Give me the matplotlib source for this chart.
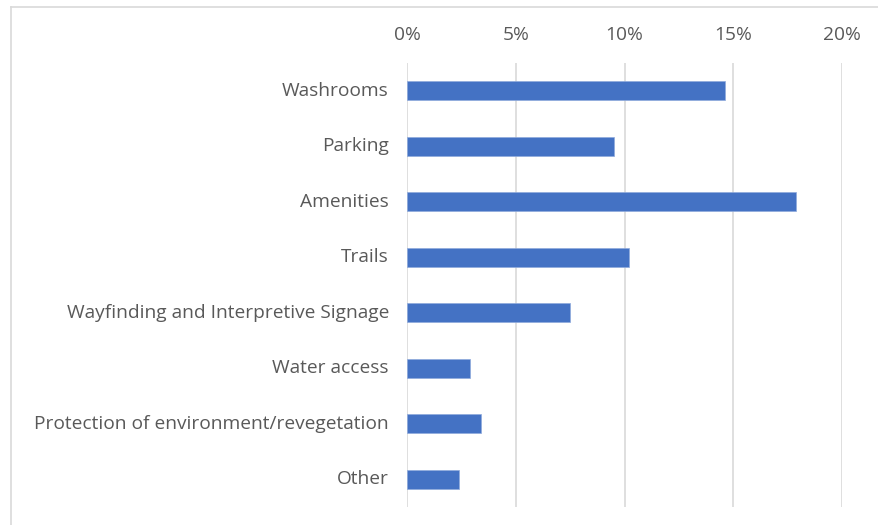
import matplotlib
matplotlib.use("Agg")
import matplotlib.pyplot as plt
from matplotlib.lines import Line2D
from matplotlib.ticker import FuncFormatter
from matplotlib.transforms import ScaledTranslation

categories = ["Washrooms", "Parking", "Amenities", "Trails",
              "Wayfinding and Interpretive Signage", "Water access",
              "Protection of environment/revegetation", "Other"]
values = [14.6, 9.5, 17.9, 10.2, 7.5, 2.9, 3.4, 2.4]
xticks = [0, 5, 10, 15, 20]

plt.rcParams['font.family'] = ['Open Sans', 'DejaVu Sans']
W, H = 879, 525
fig = plt.figure(figsize=(W/100, H/100), dpi=100)
ax = fig.add_axes([407/W, 1-507/H, (842-407)/W, (507-63)/H])

y = list(range(len(categories)))
ax.barh(y, values, height=0.34, color='#4472C4', edgecolor='#8FAADC', linewidth=0.5, zorder=3)
ax.set_ylim(len(categories)-0.5, -0.5)
ax.set_xlim(0, 20)
ax.set_xticks(xticks)
ax.xaxis.set_major_formatter(FuncFormatter(lambda v, p: f"{v:.0f}%"))
ax.xaxis.tick_top()
ax.set_yticks(y)
ax.set_yticklabels(categories)
ax.grid(axis='x', color='#D9D9D9', linewidth=1.2, zorder=0)
for s in ax.spines.values():
    s.set_visible(False)
ax.tick_params(axis='both', length=0, colors='#595959', labelsize=13.8)
ax.tick_params(axis='x', pad=14)
ax.tick_params(axis='y', pad=13)
shift = ScaledTranslation(0, 2/100, fig.dpi_scale_trans)
for lbl in ax.get_yticklabels():
    lbl.set_transform(lbl.get_transform() + shift)

fig.add_artist(Line2D([11/W, 11/W], [0, 1-7/H], color='#D9D9D9', linewidth=1.2))
fig.add_artist(Line2D([11/W, 1], [1-7/H, 1-7/H], color='#D9D9D9', linewidth=1.2))

fig.savefig("out.png", dpi=100)
